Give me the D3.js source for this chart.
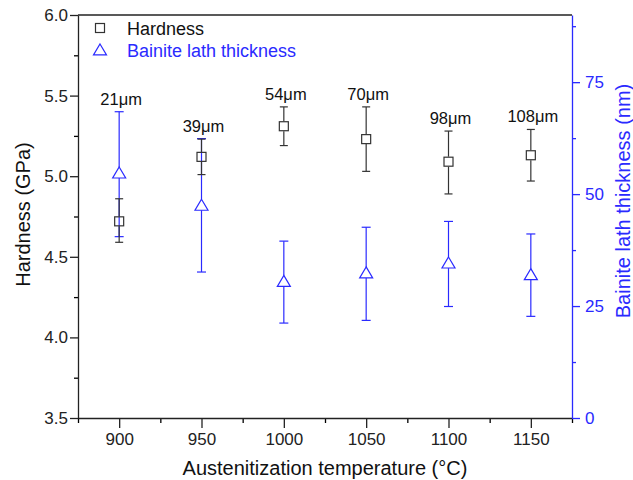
<!DOCTYPE html>
<html>
<head>
<meta charset="utf-8">
<script src="https://cdn.jsdelivr.net/npm/d3@7"></script>
<style>
  body { margin: 0; background: #fff; }
  svg, svg text { font-family: "Liberation Sans", Arial, sans-serif; }
</style>
</head>
<body>
<div id="chart"></div>
<script>
// temperatures (°C)
const temps = [900, 950, 1000, 1050, 1100, 1150];
// hardness (GPa) with asymmetric error bars
const hardness = [4.72, 5.12, 5.31, 5.23, 5.09, 5.13];
const hardnessHi = [4.86, 5.23, 5.43, 5.43, 5.28, 5.29];
const hardnessLo = [4.59, 5.01, 5.19, 5.03, 4.89, 4.97];
// bainite lath thickness (nm)
const lath = [54.7, 47.5, 30.5, 32.4, 34.6, 32.0];
const lathHi = [68.4, 62.4, 39.5, 42.6, 43.9, 41.1];
const lathLo = [40.5, 32.6, 21.2, 21.8, 24.9, 22.7];
// prior austenite grain size labels
const grainLabels = ["21\u03bcm", "39\u03bcm", "54\u03bcm", "70\u03bcm", "98\u03bcm", "108\u03bcm"];

const W = 633, H = 480;
const margin = { top: 15, right: 61, bottom: 62, left: 78 };
const width = W - margin.left - margin.right;
const height = H - margin.top - margin.bottom;
const blue = "#2a2aff";
const dark = "#333";
const FONT = '"Liberation Sans", Arial, sans-serif';

const svg = d3.select("#chart").append("svg")
  .attr("width", W).attr("height", H);
const g = svg.append("g").attr("transform", `translate(${margin.left},${margin.top})`);

const x = d3.scaleLinear().domain([875, 1175]).range([0, width]);
const yL = d3.scaleLinear().domain([3.5, 6.0]).range([height, 0]);
const yR = d3.scaleLinear().domain([0, 90]).range([height, 0]);

// minor ticks first
g.append("g").attr("transform", `translate(0,${height})`)
  .call(d3.axisBottom(x).tickValues(d3.range(875, 1176, 50)).tickSize(5).tickFormat(""))
  .call(a => a.select(".domain").remove());
g.append("g")
  .call(d3.axisLeft(yL).tickValues(d3.range(3.75, 6, 0.5)).tickSize(4).tickFormat(""))
  .call(a => a.select(".domain").remove());
g.append("g").attr("transform", `translate(${width},0)`)
  .call(d3.axisRight(yR).tickValues([12.5, 37.5, 62.5, 87.5]).tickSize(4).tickFormat(""))
  .call(a => a.select(".domain").remove())
  .selectAll("line").attr("stroke", blue);

// major axes
const xAx = g.append("g").attr("transform", `translate(0,${height})`)
  .call(d3.axisBottom(x).tickValues(temps).tickSize(10).tickPadding(5)
    .tickFormat(d3.format("d")).tickSizeOuter(0));

const yAx = g.append("g")
  .call(d3.axisLeft(yL).tickValues(d3.range(3.5, 6.01, 0.5)).tickSize(8).tickPadding(2)
    .tickFormat(d3.format(".1f")).tickSizeOuter(0));

const rAx = g.append("g").attr("transform", `translate(${width},0)`)
  .call(d3.axisRight(yR).tickValues([0, 25, 50, 75]).tickSize(8).tickPadding(5).tickSizeOuter(0));

[xAx, yAx, rAx].forEach(a => a.attr("font-family", FONT).attr("font-size", 17));
[xAx, yAx].forEach(a => {
  a.selectAll("line, .domain").attr("stroke", "#222").attr("stroke-width", 1.3);
  a.selectAll("text").attr("fill", "#222");
});
rAx.selectAll("line, .domain").attr("stroke", blue).attr("stroke-width", 1.3);
rAx.selectAll("text").attr("fill", blue);
g.selectAll(".tick line").attr("stroke-width", 1.3);

// top frame
g.append("line").attr("x1", 0).attr("x2", width).attr("y1", 0).attr("y2", 0)
  .attr("stroke", "#222").attr("stroke-width", 1.3);

// error bar helper: draws two segments outside the marker, with caps
function errBars(vals, hi, lo, yScale, color, halfUp, halfDown, cap) {
  const eb = g.append("g").attr("stroke", color).attr("stroke-width", 1.2).attr("fill", "none");
  temps.forEach((t, i) => {
    const cx = x(t), cy = yScale(vals[i]);
    const yt = yScale(hi[i]), yb = yScale(lo[i]);
    eb.append("line").attr("x1", cx).attr("x2", cx).attr("y1", yt).attr("y2", cy - halfUp);
    eb.append("line").attr("x1", cx).attr("x2", cx).attr("y1", cy + halfDown).attr("y2", yb);
    eb.append("line").attr("x1", cx - cap).attr("x2", cx + cap).attr("y1", yt).attr("y2", yt);
    eb.append("line").attr("x1", cx - cap).attr("x2", cx + cap).attr("y1", yb).attr("y2", yb);
  });
}

errBars(lath, lathHi, lathLo, yR, blue, 6, 5, 4.5);
errBars(hardness, hardnessHi, hardnessLo, yL, dark, 5, 5, 4);

// markers
const sq = 9, triW = 13, triH = 11;
g.selectAll(".sq").data(temps).enter().append("rect")
  .attr("x", (d, i) => x(d) - sq / 2)
  .attr("y", (d, i) => yL(hardness[i]) - sq / 2)
  .attr("width", sq).attr("height", sq)
  .attr("fill", "none").attr("stroke", dark).attr("stroke-width", 1.2);

const triPath = (cx, cy) => `M${cx},${cy - triH * 0.55}L${cx + triW / 2},${cy + triH * 0.45}L${cx - triW / 2},${cy + triH * 0.45}Z`;
g.selectAll(".tri").data(temps).enter().append("path")
  .attr("d", (d, i) => triPath(x(d), yR(lath[i])))
  .attr("fill", "none").attr("stroke", blue).attr("stroke-width", 1.2);

// grain size labels above the highest cap
g.selectAll(".lbl").data(temps).enter().append("text")
  .attr("x", d => x(d) + 2)
  .attr("y", (d, i) => Math.min(yL(hardnessHi[i]), yR(lathHi[i])) - 7)
  .attr("text-anchor", "middle")
  .style("font-size", "16.5px").attr("fill", "#111")
  .text((d, i) => grainLabels[i]);

// legend
const leg = g.append("g").attr("transform", "translate(22,13)");
leg.append("rect").attr("x", -4.5).attr("y", -4.5).attr("width", sq).attr("height", sq)
  .attr("fill", "none").attr("stroke", dark).attr("stroke-width", 1.2);
leg.append("text").attr("x", 27).attr("y", 6.5).style("font-size", "18px").attr("fill", "#111").text("Hardness");
leg.append("path").attr("d", triPath(0, 22)).attr("fill", "none").attr("stroke", blue).attr("stroke-width", 1.2);
leg.append("text").attr("x", 27).attr("y", 29).style("font-size", "18px").attr("fill", blue).text("Bainite lath thickness");

// axis titles
svg.append("text")
  .attr("x", margin.left + width / 2).attr("y", 475)
  .attr("text-anchor", "middle").style("font-size", "20px").attr("fill", "#111")
  .text("Austenitization temperature (\u00b0C)");
svg.append("text")
  .attr("transform", `translate(30,${margin.top + height / 2 - 2}) rotate(-90)`)
  .attr("text-anchor", "middle").style("font-size", "20px").attr("fill", "#111")
  .text("Hardness (GPa)");
svg.append("text")
  .attr("transform", `translate(630,201) rotate(-90)`)
  .attr("text-anchor", "middle").style("font-size", "20px").attr("fill", blue)
  .text("Bainite lath thickness (nm)");
</script>
</body>
</html>
